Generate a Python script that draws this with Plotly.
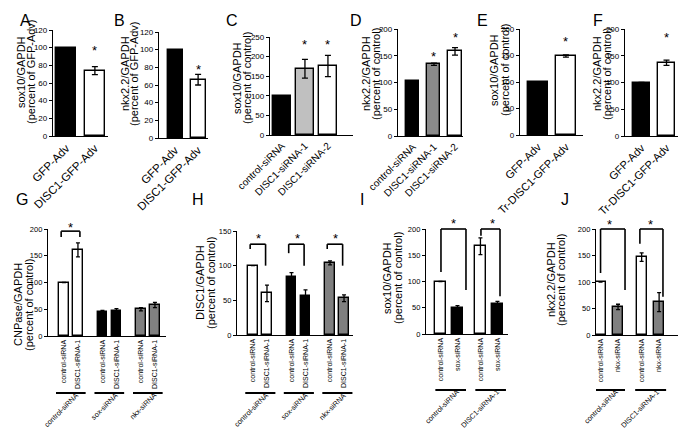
import plotly.graph_objects as go

W, H = 686, 429
FONT = "Liberation Sans, Arial, sans-serif"
BLACK, WHITE = "#000000", "#ffffff"
LGREY, MGREY, DGREY = "#c0c0c0", "#8a8a8a", "#808080"

# ---------------- data ----------------
a_labels = ["GFP-Adv", "DISC1-GFP-Adv"]
a_values = [100, 74]
a_errors = [0, 4.5]

b_labels = ["GFP-Adv", "DISC1-GFP-Adv"]
b_values = [100, 66]
b_errors = [0, 6]

c_labels = ["control-siRNA", "DISC1-siRNA-1", "DISC1-siRNA-2"]
c_values = [100, 169, 176]
c_errors = [0, 24, 27]

d_labels = ["control-siRNA", "DISC1-siRNA-1", "DISC1-siRNA-2"]
d_values = [102, 134, 158]
d_errors = [0, 2, 7]

e_labels = ["GFP-Adv", "Tr-DISC1-GFP-Adv"]
e_values = [100, 149]
e_errors = [0, 2]

f_labels = ["GFP-Adv", "Tr-DISC1-GFP-Adv"]
f_values = [100, 137]
f_errors = [0, 5]

g_groups = ["control-siRNA", "sox-siRNA", "nkx-siRNA"]
g_bar_labels = ["control-siRNA", "DISC1-siRNA-1"]
g_values = [[100, 161], [44, 47], [50, 58]]
g_errors = [[0, 13], [4, 4], [3, 5]]

h_groups = ["control-siRNA", "sox-siRNA", "nkx-siRNA"]
h_bar_labels = ["control-siRNA", "DISC1-siRNA-1"]
h_values = [[100, 60], [84, 56], [104, 53]]
h_errors = [[0, 12], [6, 9], [3, 5]]

i_groups = ["control-siRNA", "DISC1-siRNA-1"]
i_bar_labels = ["control-siRNA", "sox-siRNA"]
i_values = [[100, 50], [167, 57]]
i_errors = [[0, 4], [16, 5]]

j_groups = ["control-siRNA", "DISC1-siRNA-1"]
j_bar_labels = ["control-siRNA", "nkx-siRNA"]
j_values = [[100, 53], [147, 62]]
j_errors = [[0, 5], [8, 18]]

# ---------------- panel layout ----------------
simple_panels = [
    dict(letter="A", lpos=(17, 12), labels=a_labels, values=a_values, errors=a_errors,
         colors=[BLACK, WHITE], box=(45, 100, 22, 128), yr=(0, 120), dtick=20,
         xr=(-0.47, 1.46), bw=0.7, title=("sox10/GAPDH", "(percent of GFP-Adv)"),
         tx=(13, 23), ty=64, stars=[(1, 100)], xfont=11.5),
    dict(letter="B", lpos=(111, 12), labels=b_labels, values=b_values, errors=b_errors,
         colors=[BLACK, WHITE], box=(151, 200, 24, 130), yr=(0, 120), dtick=20,
         xr=(-0.7, 1.43), bw=0.65, title=("nkx2.2/GAPDH", "(percent of GFP-Adv)"),
         tx=(117, 126), ty=66, stars=[(1, 81)], xfont=11.5),
    dict(letter="C", lpos=(224, 12), labels=c_labels, values=c_values, errors=c_errors,
         colors=[BLACK, LGREY, WHITE], box=(262, 345, 29, 127), yr=(0, 250), dtick=50,
         xr=(-0.52, 3.09), bw=0.8, title=("sox10/GAPDH", "(percent of control)"),
         tx=(229, 239), ty=70, stars=[(1, 238), (2, 238)], xfont=10),
    dict(letter="D", lpos=(348, 12), labels=d_labels, values=d_values, errors=d_errors,
         colors=[BLACK, MGREY, WHITE], box=(390, 455, 21, 128), yr=(0, 200), dtick=50,
         xr=(-0.71, 2.38), bw=0.62, title=("nkx2.2/GAPDH", "(percent of control)"),
         tx=(358, 368), ty=66, stars=[(1, 155), (2, 190)], xfont=10),
    dict(letter="E", lpos=(474, 12), labels=e_labels, values=e_values, errors=e_errors,
         colors=[BLACK, WHITE], box=(512, 575, 21, 127), yr=(0, 200), dtick=50,
         xr=(-0.64, 1.61), bw=0.71, title=("sox10/GAPDH", "(percent of control)"),
         tx=(486, 497), ty=62, stars=[(1, 183)], xfont=11),
    dict(letter="F", lpos=(590, 12), labels=f_labels, values=f_values, errors=f_errors,
         colors=[BLACK, WHITE], box=(617, 680, 21, 128), yr=(0, 200), dtick=50,
         xr=(-0.66, 1.86), bw=0.68, title=("nkx2.2/GAPDH", "(percent of control)"),
         tx=(589, 599), ty=66, stars=[(1, 190)], xfont=11),
]

group_panels = [
    dict(letter="G", lpos=(14, 191), groups=g_groups, bar_labels=g_bar_labels,
         values=g_values, errors=g_errors,
         colors=[[WHITE, WHITE], [BLACK, BLACK], [DGREY, DGREY]],
         box=(40, 158, 221, 328), yr=(0, 200), dtick=50, xr=(-1.14, 7.29), bw=0.68,
         goff=2.75, title=("CNPase/GAPDH", "(percent of control)"), tx=(10, 21), ty=297,
         gline=(385, 0.57, 0.55),
         brackets=[(0, -0.2, 185, 1, 0.14, 185, 196)],
         stars=[(0.47, 209)]),
    dict(letter="H", lpos=(190, 191), groups=h_groups, bar_labels=h_bar_labels,
         values=h_values, errors=h_errors,
         colors=[[WHITE, WHITE], [BLACK, BLACK], [DGREY, DGREY]],
         box=(229, 345, 223, 327), yr=(0, 150), dtick=50, xr=(-1.14, 7.14), bw=0.65,
         goff=2.75, title=("DISC1/GAPDH", "(percent of control)"), tx=(192, 203), ty=275,
         gline=(385, 0.55, 0.6),
         brackets=[(0, -0.2, 124, 1, -0.1, 100, 131), (1, -0.2, 118, 1, -0.1, 100, 131),
                   (2, -0.2, 124, 1, -0.1, 100, 131)],
         stars=[(0.4, 143), (3.15, 143), (5.9, 143)]),
    dict(letter="I", lpos=(354, 191), groups=i_groups, bar_labels=i_bar_labels,
         values=i_values, errors=i_errors,
         colors=[[WHITE, BLACK], [WHITE, BLACK]],
         box=(418, 500, 221, 326), yr=(0, 200), dtick=50, xr=(-0.85, 3.97), bw=0.6,
         goff=2.35, title=("sox10/GAPDH", "(percent of control)"), tx=(379, 390), ty=270,
         gline=(382, 0.3, 0.5),
         brackets=[(0, 0.03, 118, 1, 0.5, 84, 200), (1, 0.03, 187, 1, 0.15, 72, 200)],
         stars=[(0.74, 217), (3.07, 217)]),
    dict(letter="J", lpos=(557, 191), groups=j_groups, bar_labels=j_bar_labels,
         values=j_values, errors=j_errors,
         colors=[[WHITE, DGREY], [WHITE, DGREY]],
         box=(588, 677, 221, 327), yr=(0, 200), dtick=50, xr=(-0.26, 4.83), bw=0.57,
         goff=2.35, title=("nkx2.2/GAPDH", "(percent of control)"), tx=(543, 553), ty=272,
         gline=(382, 0.37, 0.4),
         brackets=[(0, 0.0, 117, 1, 0.4, 85, 200), (1, -0.1, 172, 1, 0.22, 72, 200)],
         stars=[(0.5, 215), (2.85, 215)]),
]

# approximate glyph advance widths (em) used to centre rotated group labels
CHAR_W = {"a": .556, "c": .5, "e": .556, "i": .222, "k": .5, "l": .222, "n": .556,
          "o": .556, "r": .333, "s": .5, "t": .278, "x": .5, "-": .333, "1": .556,
          "A": .667, "C": .722, "D": .722, "I": .278, "N": .722, "R": .722, "S": .667}


def text_len(s, size):
    return sum(CHAR_W.get(ch, 0.55) for ch in s) * size


def px_x(px):
    return px / W


def px_y(py):
    return 1 - py / H


def data_px(p, xd, yd):
    l, r, t, b = p["box"]
    x0, x1 = p["xr"]
    y0, y1 = p["yr"]
    px = l + (xd - x0) / (x1 - x0) * (r - l)
    py = b - (yd - y0) / (y1 - y0) * (b - t)
    return px, py


def to_paper(p, xd, yd):
    px, py = data_px(p, xd, yd)
    return px_x(px), px_y(py)


fig = go.Figure()
layout = dict(width=W, height=H, margin=dict(l=0, r=0, t=0, b=0),
              template="none", paper_bgcolor="white", plot_bgcolor="rgba(0,0,0,0)",
              showlegend=False, font=dict(family=FONT, color="black"), bargap=0)
annotations, shapes = [], []

AX_LINE = dict(showline=True, linecolor="black", linewidth=1.3, showgrid=False,
               zeroline=False, automargin=False)


def add_axes(k, p, xextra):
    l, r, t, b = p["box"]
    xn = "xaxis" if k == 1 else f"xaxis{k}"
    yn = "yaxis" if k == 1 else f"yaxis{k}"
    ref = "" if k == 1 else str(k)
    layout[xn] = dict(domain=[px_x(l), px_x(r)], anchor="y" + ref, range=list(p["xr"]),
                      ticks="", **AX_LINE, **xextra)
    layout[yn] = dict(domain=[px_y(b), px_y(t)], anchor="x" + ref, range=list(p["yr"]),
                      dtick=p["dtick"], ticks="outside", ticklen=3, tickwidth=1.1,
                      tickcolor="black", tickfont=dict(size=8 if k <= 6 else 7.5),
                      **AX_LINE)
    return "x" + ref, "y" + ref


def add_title_letter(p, size_title):
    for txt, x in zip(p["title"], p["tx"]):
        annotations.append(dict(text=txt, x=px_x(x), y=px_y(p["ty"]), xref="paper",
                                yref="paper", textangle=-90, showarrow=False,
                                xanchor="center", yanchor="middle",
                                font=dict(size=size_title)))
    annotations.append(dict(text=p["letter"], x=px_x(p["lpos"][0]), y=px_y(p["lpos"][1]),
                            xref="paper", yref="paper", showarrow=False,
                            xanchor="center", yanchor="middle", font=dict(size=16)))


def add_stars(p):
    for xi, yv in p["stars"]:
        px, py = data_px(p, xi, yv)
        annotations.append(dict(text="*", x=px_x(px), y=px_y(py + 3), xref="paper",
                                yref="paper", showarrow=False, xanchor="center",
                                yanchor="middle", font=dict(size=13)))


k = 0
for p in simple_panels:
    k += 1
    xa, ya = add_axes(k, p, dict(type="category", tickangle=-45,
                                 tickfont=dict(size=p["xfont"])))
    fig.add_trace(go.Bar(x=p["labels"], y=p["values"], width=p["bw"], xaxis=xa, yaxis=ya,
                         marker=dict(color=p["colors"], line=dict(color="black", width=1.4)),
                         error_y=dict(type="data", array=p["errors"], visible=True,
                                      color="black", thickness=1.3, width=3)))
    add_title_letter(p, 11)
    add_stars(p)

GL_FONT = 7.2
for p in group_panels:
    k += 1
    xs, ys, es, cs, tl = [], [], [], [], []
    for g in range(len(p["groups"])):
        for i in range(len(p["bar_labels"])):
            xs.append(g * p["goff"] + i)
            ys.append(p["values"][g][i])
            es.append(p["errors"][g][i])
            cs.append(p["colors"][g][i])
            tl.append(p["bar_labels"][i])
    xa, ya = add_axes(k, p, dict(type="linear", tickvals=xs, ticktext=tl, tickangle=-90,
                                 tickfont=dict(size=7)))
    fig.add_trace(go.Bar(x=xs, y=ys, width=p["bw"], xaxis=xa, yaxis=ya,
                         marker=dict(color=cs, line=dict(color="black", width=1.4)),
                         error_y=dict(type="data", array=es, visible=True,
                                      color="black", thickness=1.3, width=2)))
    add_title_letter(p, 11)
    gy, gl, gr = p["gline"]
    for g, name in enumerate(p["groups"]):
        x0 = g * p["goff"] - gl
        x1 = g * p["goff"] + len(p["bar_labels"]) - 1 + gr
        shapes.append(dict(type="line", xref=xa, yref="paper", x0=x0, x1=x1,
                           y0=px_y(gy), y1=px_y(gy), line=dict(color="black", width=2)))
        rx, _ = data_px(p, x1, 0)
        half = 0.354 * text_len(name, GL_FONT)
        cx, cy = rx - 8 - half, gy + 1 + half
        annotations.append(dict(text=name, x=px_x(cx), y=px_y(cy), xref="paper",
                                yref="paper", textangle=-45, showarrow=False,
                                xanchor="center", yanchor="middle",
                                font=dict(size=GL_FONT)))
    for g, dl, yl, di, dr, yr_, top in p["brackets"]:
        xl = g * p["goff"] + dl
        xr = g * p["goff"] + di + dr
        pts = [to_paper(p, xl, yl), to_paper(p, xl, top), to_paper(p, xr, top),
               to_paper(p, xr, yr_)]
        for (ax0, ay0), (ax1, ay1) in zip(pts[:-1], pts[1:]):
            shapes.append(dict(type="line", xref="paper", yref="paper", x0=ax0, y0=ay0,
                               x1=ax1, y1=ay1, line=dict(color="black", width=1.6)))
    add_stars(p)

layout["annotations"] = annotations
layout["shapes"] = shapes
fig.update_layout(**layout)
fig.write_html("out.html")
